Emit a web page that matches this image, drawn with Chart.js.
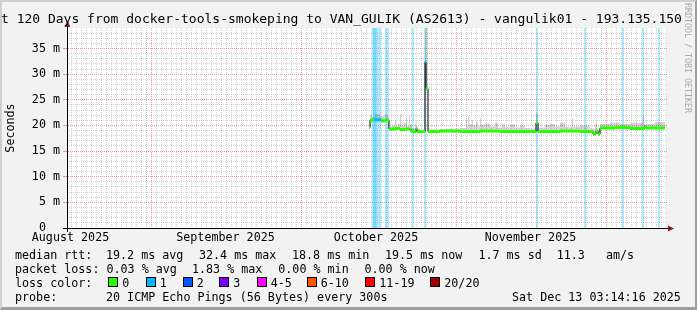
<!DOCTYPE html>
<html><head><meta charset="utf-8">
<script src="https://cdn.jsdelivr.net/npm/chart.js@4.4.1/dist/chart.umd.min.js"></script>
<style>
html,body{margin:0;padding:0;background:#f2f2f2;}
#wrap{position:relative;width:697px;height:310px;background:#f2f2f2;overflow:hidden;font-family:"DejaVu Sans Mono",monospace;color:#000;}
#frame{position:absolute;left:0;top:0;width:697px;height:310px;box-sizing:border-box;border-top:2px solid #cfcfcf;border-left:2px solid #cfcfcf;border-right:2px solid #9e9e9e;border-bottom:3px solid #9e9e9e;pointer-events:none;}
canvas{position:absolute;left:0;top:0;}
.t{position:absolute;white-space:pre;line-height:14px;font-size:11.7px;}
#title{position:absolute;left:1px;top:12px;white-space:pre;line-height:14px;font-size:13px;}
#rrd{position:absolute;left:683px;top:3px;font-size:8.3px;color:#ababab;writing-mode:vertical-rl;white-space:pre;line-height:10px;}
.box{position:absolute;width:10px;height:10px;box-sizing:border-box;border:1px solid #000;}
</style></head>
<body>
<div id="wrap">
  <div id="frame"></div>
  <canvas id="c" width="697" height="310"></canvas>
  <div id="title"></div>
  <div id="rrd"></div>
  <div id="legend"></div>
</div>
<script>
// ---------- data ----------
const titleText = "t 120 Days from docker-tools-smokeping to VAN_GULIK (AS2613) - vangulik01 - 193.135.150";
const watermark = "RRDTOOL / TOBI OETIKER";
const yAxisTitle = "Seconds";

// x axis in days since graph start (Aug 15 2025 03:14)
const monthLabels = ["August 2025", "September 2025", "October 2025", "November 2025"];
const monthLabelDays = [0.7, 31.7, 61.8, 92.7];
const monthStartDays = [16.865, 46.865, 77.865, 107.865];
const firstMidnightDay = 0.865;

const yTicks = [0, 5, 10, 15, 20, 25, 30, 35];
const yTickLabels = ["0  ", "5 m", "10 m", "15 m", "20 m", "25 m", "30 m", "35 m"];

// median rtt (ms) and loss level per sample
const medianDays = [60.4, 60.6, 61.4, 62.8, 63.6, 64.4, 65.6, 66.6, 67.6, 68.8, 69.8, 70.0, 71.6, 71.8, 72.2, 74.6, 78.6, 82.6, 86.6, 90.6, 93.8, 94.2, 98.6, 102.6, 105.2, 105.8, 106.2, 106.6, 109.6, 112.6, 115.6, 115.8, 119.6];
const medianMs   = [19.6, 21.0, 21.1, 20.9, 21.0, 19.3, 19.4, 19.2, 19.3, 18.8, 19.4, 18.8, 32.4, 27.2, 18.8, 18.9, 18.8, 18.9, 18.8, 18.8, 20.5, 18.8, 18.9, 18.8, 18.3, 18.9, 18.3, 19.5, 19.6, 19.4, 19.8, 19.5, 19.5];
const medianLoss = [0, 0, 1, 0, 0, 0, 0, 0, 0, 0, 0, 0, 1, 0, 0, 0, 0, 0, 0, 0, 0, 0, 0, 0, 0, 0, 0, 0, 0, 0, 0, 0, 0];

// smoke: upper edge of the ping spread (ms)
const smokeDays = [60.4, 60.6, 61.0, 61.6, 62.6, 63.4, 64.2, 64.4, 65.0, 65.6, 65.8, 66.2, 66.6, 66.8, 67.4, 67.8, 68.0, 68.4, 68.6, 69.0, 69.6, 69.8, 70.2, 70.6, 71.6, 72.2, 72.6, 74.6, 76.6, 78.6, 79.8, 80.0, 80.2, 80.4, 81.0, 81.2, 81.8, 82.2, 82.6, 82.8, 83.6, 84.6, 85.6, 86.2, 87.0, 87.6, 88.6, 89.6, 90.6, 91.6, 92.6, 93.8, 94.2, 95.6, 96.6, 97.6, 98.6, 99.6, 101.0, 101.2, 102.6, 104.6, 105.6, 106.0, 106.6, 108.6, 110.6, 112.6, 115.2, 115.4, 117.6, 119.6];
const smokeTopMs = [19.6, 22.0, 21.6, 22.2, 21.8, 22.1, 21.5, 19.6, 20.0, 21.0, 19.8, 20.3, 22.3, 20.0, 20.5, 21.5, 19.9, 22.0, 20.2, 19.5, 20.5, 19.8, 19.4, 19.0, 39.0, 19.4, 19.2, 19.3, 19.4, 19.5, 21.0, 19.8, 21.8, 20.3, 21.1, 20.0, 20.6, 19.8, 21.4, 20.2, 20.4, 19.8, 20.5, 19.6, 20.4, 19.7, 20.2, 19.6, 20.0, 19.5, 19.4, 22.4, 19.6, 20.1, 20.3, 19.8, 20.5, 19.7, 21.4, 19.8, 20.0, 19.4, 20.4, 19.2, 20.3, 20.5, 20.3, 20.5, 22.0, 20.3, 20.6, 20.2];

// samples with packet loss (full-height loss markers)
const lossBarDays = [61.2, 61.4, 61.6, 61.8, 62.2, 62.6, 63.8, 64.2, 69.2, 71.6, 94.0, 103.6, 111.2, 115.2, 118.4];

const lossLegendLabels = ["0", "1", "2", "3", "4-5", "6-10", "11-19", "20/20"];
const lossLegendColors = ["#26ff00", "#00b8ff", "#0059ff", "#7e00ff", "#ff00ff", "#ff5500", "#ff0000", "#a00000"];

const legendLine1 = [[15, "median rtt:"], [106, "19.2 ms avg"], [199, "32.4 ms max"], [292, "18.8 ms min"], [385, "19.5 ms now"], [478.4, "1.7 ms sd"], [556.7, "11.3"], [606, "am/s"]];
const legendLine2 = [[15, "packet loss:"], [106.5, "0.03 % avg"], [192, "1.83 % max"], [278.3, "0.00 % min"], [364.5, "0.00 % now"]];
const legendLine3Label = [[15, "loss color:"]];
const lossBoxX = [108.3, 145.7, 182.7, 219.3, 256.7, 306.7, 365.3, 430.3];
const legendLine4 = [[15, "probe:"], [106, "20 ICMP Echo Pings (56 Bytes) every 300s"], [512, "Sat Dec 13 03:14:16 2025"]];
const legendTops = [248, 262, 275.8, 289.6];

// ---------- text ----------
document.getElementById('title').textContent = titleText;
document.getElementById('rrd').textContent = watermark;
const leg = document.getElementById('legend');
function addLine(items, top) {
  items.forEach(([x, s]) => {
    const d = document.createElement('div');
    d.className = 't'; d.style.left = x + 'px'; d.style.top = top + 'px'; d.textContent = s;
    leg.appendChild(d);
  });
}
addLine(legendLine1, legendTops[0]);
addLine(legendLine2, legendTops[1]);
addLine(legendLine3Label, legendTops[2]);
lossBoxX.forEach((x, i) => {
  const b = document.createElement('div');
  b.className = 'box'; b.style.left = x + 'px'; b.style.top = '277px'; b.style.background = lossLegendColors[i];
  leg.appendChild(b);
  addLine([[x + 14, lossLegendLabels[i]]], legendTops[2]);
});
addLine(legendLine4, legendTops[3]);

// ---------- chart ----------
const mono = "'DejaVu Sans Mono'";
const lossColorByLevel = {0: lossLegendColors[0], 1: lossLegendColors[1], 2: lossLegendColors[2], 3: lossLegendColors[3]};

const medianPoints = medianDays.map((d, i) => ({x: d, y: medianMs[i]}));
const runPoints = [];
for (let i = 0; i < medianDays.length - 1; i++) {
  runPoints.push({x: medianDays[i], y: medianMs[i]}, {x: medianDays[i + 1], y: medianMs[i]}, {x: medianDays[i + 1], y: null});
}
const smokePoints = smokeDays.map((d, i) => ({x: d, y: smokeTopMs[i]}));
const lossPoints = lossBarDays.map(d => ({x: d, y: 1}));

const dayGridTicks = [];
for (let d = firstMidnightDay; d < 120; d += 1) {
  if (!monthStartDays.some(m => Math.abs(m - d) < 0.2)) dayGridTicks.push({value: d});
}
const minorYTicks = [];
for (let v = 1; v < 39; v++) if (v % 5) minorYTicks.push({value: v});

const bgPlugin = {
  id: 'bg',
  beforeDraw(chart) {
    const {ctx, chartArea: a} = chart;
    ctx.save(); ctx.fillStyle = '#ffffff';
    ctx.fillRect(a.left, a.top, a.right - a.left, a.bottom - a.top);
    ctx.restore();
  },
  afterDraw(chart) {
    const {ctx, chartArea: a} = chart;
    ctx.save();
    ctx.strokeStyle = '#000'; ctx.lineWidth = 1;
    ctx.beginPath();
    ctx.moveTo(a.left - 4, a.bottom + 0.5); ctx.lineTo(a.right + 2, a.bottom + 0.5);
    ctx.moveTo(a.left + 0.5, a.bottom + 4); ctx.lineTo(a.left + 0.5, a.top - 2);
    ctx.stroke();
    ctx.fillStyle = '#801f1f';
    ctx.beginPath();
    ctx.moveTo(a.left - 2.5, a.top - 1); ctx.lineTo(a.left + 3.5, a.top - 1); ctx.lineTo(a.left + 0.5, a.top - 7); ctx.closePath(); ctx.fill();
    ctx.beginPath();
    ctx.moveTo(a.right + 1, a.bottom - 2.5); ctx.lineTo(a.right + 1, a.bottom + 3.5); ctx.lineTo(a.right + 7, a.bottom + 0.5); ctx.closePath(); ctx.fill();
    ctx.restore();
  }
};

const minorGrid = 'rgba(143,143,143,0.38)';
const majorGrid = 'rgba(222,79,79,0.55)';

new Chart(document.getElementById('c'), {
  type: 'line',
  data: {
    datasets: [
      {label: 'median', data: runPoints, borderWidth: 3, borderColor: lossLegendColors[0], borderCapStyle: 'butt',
       pointRadius: 0, spanGaps: false, order: 0,
       segment: {borderColor: c => lossColorByLevel[medianLoss[Math.floor(c.p0DataIndex / 3)]]}},
      {label: 'medianLine', data: medianPoints, stepped: 'before', borderColor: '#000', borderWidth: 1, pointRadius: 0, order: 1},
      {label: 'smoke', data: smokePoints, stepped: 'before', borderWidth: 0, borderColor: 'rgba(0,0,0,0)',
       backgroundColor: 'rgba(0,0,0,0.17)', fill: 1, pointRadius: 0, order: 2},
      {type: 'bar', label: 'loss', data: lossPoints, backgroundColor: 'rgba(0,184,255,0.38)', barThickness: 1,
       grouped: false, yAxisID: 'yLoss', order: 3}
    ]
  },
  options: {
    responsive: false, animation: false, devicePixelRatio: 1,
    layout: {padding: {top: 28, right: 30, left: 0, bottom: 0}},
    plugins: {legend: {display: false}, tooltip: {enabled: false}},
    scales: {
      x: {type: 'linear', min: 0, max: 120, position: 'bottom', offset: false,
          afterBuildTicks: s => { s.ticks = monthLabelDays.map(v => ({value: v})); },
          ticks: {autoSkip: false, maxRotation: 0, minRotation: 0, color: '#000', padding: 3,
                  font: {family: mono, size: 11.7}, callback: (v, i) => monthLabels[i]},
          grid: {display: false, drawTicks: false, offset: false},
          border: {display: true, color: '#000', width: 1},
          afterFit: s => { s.height = 82; }},
      xDay: {type: 'linear', min: 0, max: 120, position: 'bottom', offset: false,
          afterBuildTicks: s => { s.ticks = dayGridTicks.slice(); },
          ticks: {display: false},
          grid: {color: minorGrid, drawTicks: false, offset: false},
          border: {display: false, dash: [1, 1]},
          afterFit: s => { s.height = 0; }},
      xMonth: {type: 'linear', min: 0, max: 120, position: 'bottom', offset: false,
          afterBuildTicks: s => { s.ticks = monthStartDays.map(v => ({value: v})); },
          ticks: {display: false},
          grid: {color: majorGrid, drawTicks: true, tickLength: 3, tickColor: 'rgba(222,79,79,0.8)', offset: false},
          border: {display: false, dash: [1, 1]},
          afterFit: s => { s.height = 0; }},
      y: {type: 'linear', min: 0, max: 39, position: 'left',
          afterBuildTicks: s => { s.ticks = yTicks.map(v => ({value: v})); },
          ticks: {color: '#000', padding: 3, font: {family: mono, size: 11.7}, callback: (v, i) => yTickLabels[i]},
          grid: {color: majorGrid, drawTicks: true, tickLength: 4, tickColor: majorGrid},
          border: {display: true, color: '#000', width: 1, dash: [1, 1]},
          title: {display: true, text: yAxisTitle, color: '#000', font: {family: mono, size: 11.7}, padding: {top: 4, bottom: 4}},
          afterFit: s => { s.width = 67; }},
      yMinor: {type: 'linear', min: 0, max: 39, position: 'left',
          afterBuildTicks: s => { s.ticks = minorYTicks.slice(); },
          ticks: {display: false},
          grid: {color: minorGrid, drawTicks: true, tickLength: 2, tickColor: minorGrid},
          border: {display: false, dash: [1, 1]},
          afterFit: s => { s.width = 0; }},
      yLoss: {type: 'linear', min: 0, max: 1, display: false}
    }
  },
  plugins: [bgPlugin]
});
</script>
</body></html>
